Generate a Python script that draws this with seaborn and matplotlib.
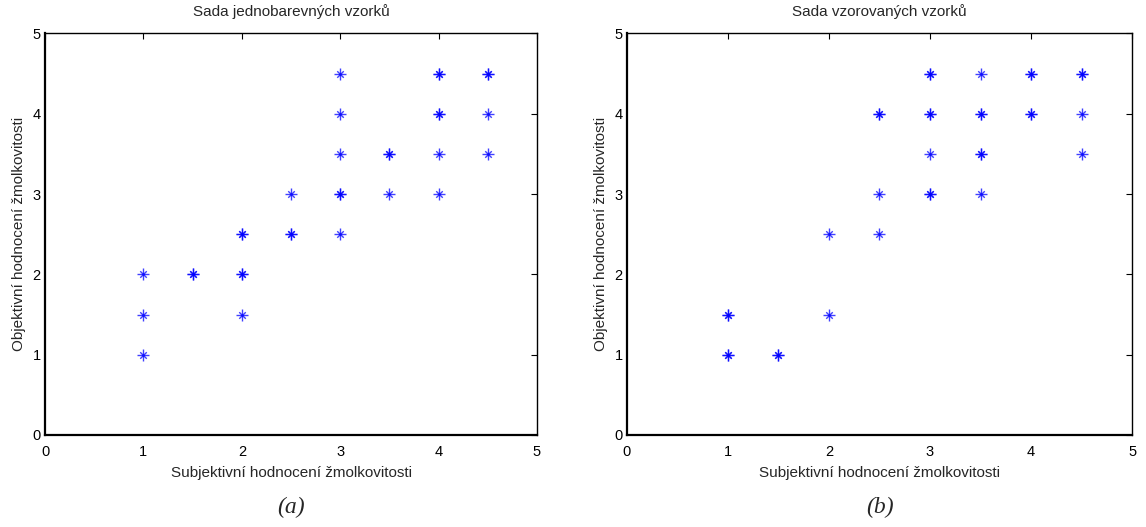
import numpy as np
import pandas as pd
import seaborn as sns
import matplotlib
matplotlib.use("Agg")
import matplotlib.pyplot as plt

# (a) single-colour samples: subjective vs. objective pilling grade
subj_a = [1, 1, 1, 1.5, 1.5, 2, 2, 2, 2, 2, 2.5, 2.5, 2.5,
          3, 3, 3, 3, 3, 3, 3.5, 3.5, 3.5, 4, 4, 4, 4, 4, 4,
          4.5, 4.5, 4.5, 4.5]
obj_a = [1, 1.5, 2, 2, 2, 1.5, 2, 2, 2.5, 2.5, 2.5, 2.5, 3,
         2.5, 3, 3, 3.5, 4, 4.5, 3, 3.5, 3.5, 3, 3.5, 4, 4, 4.5, 4.5,
         3.5, 4, 4.5, 4.5]

# (b) patterned samples
subj_b = [1, 1, 1, 1, 1.5, 1.5, 2, 2, 2.5, 2.5, 2.5, 2.5,
          3, 3, 3, 3, 3, 3, 3, 3.5, 3.5, 3.5, 3.5, 3.5, 3.5,
          4, 4, 4, 4, 4.5, 4.5, 4.5, 4.5]
obj_b = [1, 1, 1.5, 1.5, 1, 1, 1.5, 2.5, 2.5, 3, 4, 4,
         3, 3, 3.5, 4, 4, 4.5, 4.5, 3, 3.5, 3.5, 4, 4, 4.5,
         4, 4, 4.5, 4.5, 3.5, 4, 4.5, 4.5]

titles = ["Sada jednobarevných vzorků", "Sada vzorovaných vzorků"]
captions = ["(a)", "(b)"]
xlabel = "Subjektivní hodnocení žmolkovitosti"
ylabel = "Objektivní hodnocení žmolkovitosti"
ticks = [0, 1, 2, 3, 4, 5]

sns.set_style("white")
plt.rcParams["font.family"] = ["Liberation Sans", "DejaVu Sans"]

fig = plt.figure(figsize=(11.46, 5.27), dpi=100)
boxes = [[0.0393, 0.1746, 0.4293, 0.762],
         [0.5471, 0.1746, 0.4407, 0.762]]

datasets = [(subj_a, obj_a), (subj_b, obj_b)]
for i, ((sx, oy), box) in enumerate(zip(datasets, boxes)):
    ax = fig.add_axes(box)
    df = pd.DataFrame({"x": sx, "y": oy})
    # asterisk built from a plus and a smaller cross
    sns.scatterplot(data=df, x="x", y="y", ax=ax, marker="+",
                    s=70, color="#0000ff", linewidth=1.0, alpha=0.75)
    sns.scatterplot(data=df, x="x", y="y", ax=ax, marker="x",
                    s=22, color="#0000ff", linewidth=1.0, alpha=0.75)
    ax.set_xlim(0, 5)
    ax.set_ylim(0, 5)
    ax.set_xticks(ticks)
    ax.set_yticks(ticks)
    ax.tick_params(direction="in", length=4, width=0.8, top=True, right=True,
                   labelsize=10.5, colors="black")
    ax.tick_params(axis="x", pad=7.5)
    ax.tick_params(axis="y", pad=3)
    for sp in ax.spines.values():
        sp.set_visible(True)
        sp.set_color("black")
        sp.set_linewidth(1.0)
    ax.spines["bottom"].set_linewidth(1.6)
    ax.spines["left"].set_linewidth(1.6)
    ax.set_title(titles[i], fontsize=11, pad=12.5)
    ax.set_xlabel(xlabel, fontsize=11, labelpad=5)
    ax.set_ylabel(ylabel, fontsize=11, labelpad=5)
    cx = box[0] + box[2] / 2
    fig.text(cx, 0.038, captions[i], ha="center", va="center",
             fontsize=17, style="italic", family="Liberation Serif")

fig.savefig("out.png", dpi=100)
